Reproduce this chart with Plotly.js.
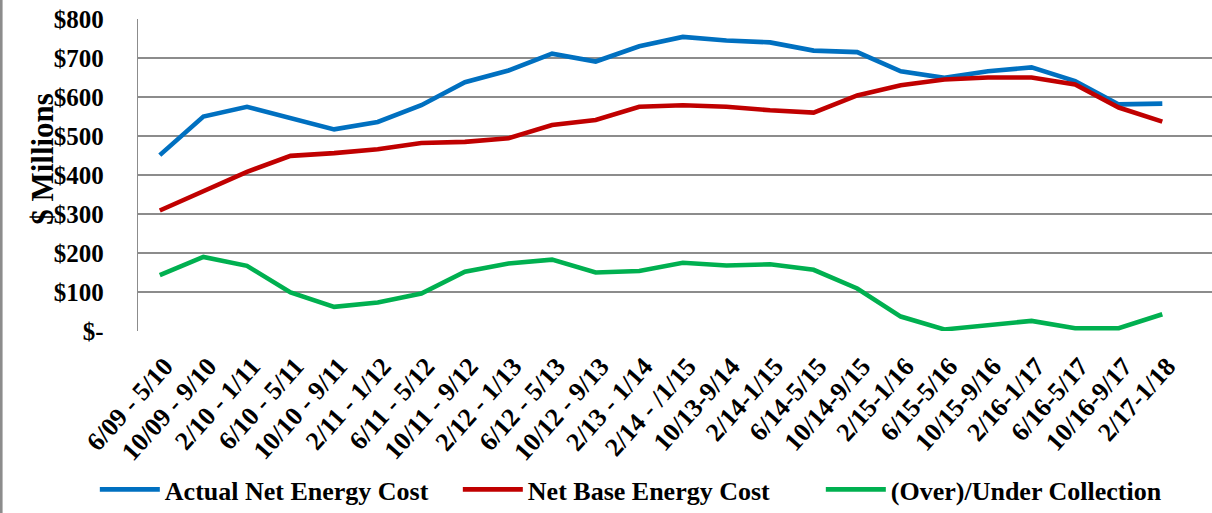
<!DOCTYPE html>
<html>
<head>
<meta charset="utf-8">
<script src="https://cdn.plot.ly/plotly-3.0.1.min.js"></script>
<style>html,body{margin:0;padding:0;background:#fff;}#chart{width:1212px;height:513px;}</style>
</head>
<body>
<div id="chart"></div>
<script>
const categories = ["6/09 - 5/10","10/09 - 9/10","2/10 - 1/11","6/10 - 5/11","10/10 - 9/11","2/11 - 1/12","6/11 - 5/12","10/11 - 9/12","2/12 - 1/13","6/12 - 5/13","10/12 - 9/13","2/13 - 1/14","2/14 - /1/15","10/13-9/14","2/14-1/15","6/14-5/15","10/14-9/15","2/15-1/16","6/15-5/16","10/15-9/16","2/16-1/17","6/16-5/17","10/16-9/17","2/17-1/18"];
const actualNetEnergyCost = [451,550,575,547,517,536,579,638,668,711,691,730,754,745,740,719,715,666,649,666,676,641,581,583];
const netBaseEnergyCost = [309,360,408,449,456,466,482,485,494,528,541,575,579,575,566,560,604,630,645,650,650,632,573,537];
const overUnderCollection = [143,190,167,99,62,73,96,152,173,183,150,154,175,168,171,157,109,37,4,15,26,7,7,43];
const yTickVals = [0,100,200,300,400,500,600,700,800];
const yTickText = ["$-","$100","$200","$300","$400","$500","$600","$700","$800"];
const seriesNames = ["Actual Net Energy Cost","Net Base Energy Cost","(Over)/Under Collection"];
const seriesColors = ["#0070C0","#C00000","#00B050"];

const FONT = "Liberation Serif, Times New Roman, serif";
const idx = categories.map((_, i) => i);
const allSeries = [actualNetEnergyCost, netBaseEnergyCost, overUnderCollection];
const traces = allSeries.map((vals, k) => ({
  type: "scatter", mode: "lines", x: idx, y: vals, name: seriesNames[k],
  line: {color: seriesColors[k], width: 4.6}, hoverinfo: "skip"
}));

const layout = {
  width: 1212, height: 513,
  margin: {l: 138, r: 0, t: 19, b: 180, pad: 0},
  paper_bgcolor: "#fff", plot_bgcolor: "#fff",
  showlegend: true,
  legend: {orientation: "h", x: -0.0402, xanchor: "left", y: -0.508, yanchor: "middle",
    itemwidth: 60,
    font: {family: FONT, size: 26, color: "#000", weight: "bold"}, entrywidth: 288, entrywidthmode: "pixels",
    bgcolor: "rgba(0,0,0,0)"},
  xaxis: {range: [-0.5, 24.14], tickvals: idx, ticktext: categories, tickangle: -48,
    tickfont: {family: FONT, size: 26, color: "#000", weight: "bold"},
    ticklabelstandoff: 14, ticklabelshift: 5,
    showgrid: false, zeroline: false, showline: false, ticks: "", fixedrange: true},
  yaxis: {range: [0, 800], tickvals: yTickVals, ticktext: yTickText,
    tickfont: {family: FONT, size: 25, color: "#000", weight: "bold"},
    showgrid: true, gridcolor: "#8c8c8c", gridwidth: 1.3, zeroline: false,
    showline: true, linecolor: "#8c8c8c", linewidth: 1.3, ticks: "", ticklabelstandoff: 28, fixedrange: true},
  annotations: [{text: "$ Millions", xref: "paper", yref: "paper", x: -0.0896, y: 0.551,
    xanchor: "center", yanchor: "middle", textangle: -90, showarrow: false,
    font: {family: FONT, size: 31, color: "#000", weight: "bold"}}],
  shapes: [{type: "line", xref: "paper", yref: "paper", x0: -0.1273, x1: -0.1273, y0: -0.6, y1: 1.1,
    line: {color: "#8c8c8c", width: 2.6}}]
};
Plotly.newPlot("chart", traces, layout, {displayModeBar: false, staticPlot: true});
</script>
</body>
</html>
